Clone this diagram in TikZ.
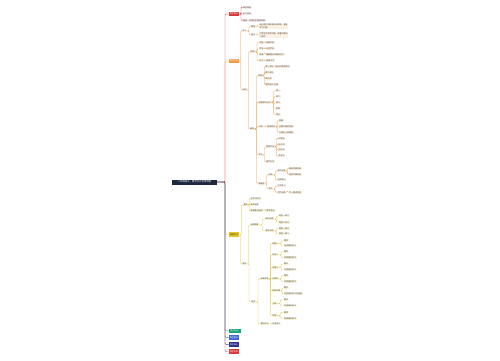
\documentclass[tikz,border=0pt]{standalone}
\usepackage{fontspec}
\newfontfamily\cjkf{Noto Sans CJK SC}
\usetikzlibrary{calc}
\definecolor{cR}{HTML}{D93A3A}
\definecolor{cO}{HTML}{EE9A3C}
\definecolor{cY}{HTML}{E6C425}
\definecolor{cG}{HTML}{1BA57A}
\definecolor{cB}{HTML}{3E6AD6}
\definecolor{cN}{HTML}{2C2F8C}
\definecolor{cRoot}{HTML}{1D2740}
\newcommand\mmf{\fontsize{2.0}{2.5}\selectfont\cjkf}
\newcommand\mmroot{\fontsize{2.4}{3}\selectfont\cjkf}
\newcommand\lk[3]{\draw[#1] let \p1=(#2.east), \p2=(#3.west) in (\p1) -- ({(\x1+\x2)/2},\y1) |- (\p2);}
\newcommand\lkx[4]{\draw[#1] let \p1=(#2.east), \p2=(#3.west) in (\p1) -- (#4pt,\y1) |- (\p2);}
\begin{document}
\begin{tikzpicture}[x=1pt,y=-1pt,
  sub/.style={anchor=west, font=\mmf, inner xsep=0.5pt, inner ysep=0.4pt, text=black!75},
  sr/.style={sub, fill=cR!10},
  so/.style={sub, fill=cO!14},
  sy/.style={sub, fill=cY!18},
  lone/.style={anchor=west, font=\mmf, text=white, inner xsep=1pt, inner ysep=0pt, minimum height=4.4pt, minimum width=10.5pt},
  lr/.style={draw=cR, line width=0.4pt, rounded corners=1pt},
  lo/.style={draw=cO, line width=0.35pt, rounded corners=1pt},
  ly/.style={draw=cY, line width=0.35pt, rounded corners=1pt},
  lg/.style={draw=cG, line width=0.4pt, rounded corners=1pt},
  lb/.style={draw=cB, line width=0.4pt, rounded corners=1pt},
  ln/.style={draw=cN, line width=0.4pt, rounded corners=1pt}
]
\useasboundingbox (0,0) rectangle (500,360);
\fill[white] (0,0) rectangle (500,360);

% root
\node[lone, anchor=center, fill=cRoot, font=\mmroot, minimum width=45pt, minimum height=5pt] (root) at (194.5,182) {八年级语文·教学设计思维导图};

% ---- red branch
\node[lone, fill=cR] (r0) at (228.5,14) {教学目标};
\node[sr] (r1) at (242.5,7.3) {知识目标};
\node[sr] (r2) at (242.5,14) {能力目标};
\node[sr] (r3) at (242.5,20.3) {情感、态度与价值观目标};

% ---- orange branch
\node[lone, fill=cO] (o0) at (228.5,61) {教学过程};
\node[so] (oA) at (242,31) {导入};
\node[so] (oA1) at (250.5,26.3) {情境};
\node[so, align=left] (oA1t) at (259,26.3) {通过图片和视频创设情境，激发\\学习兴趣};
\node[so] (oA2) at (250.5,35) {提问};
\node[so, align=left] (oA2t) at (259,35) {引导学生思考问题，带着问题进\\入课文};
\node[so] (oB) at (242,90) {新授};
\node[so] (oC1) at (250,51.7) {初读};
\node[so] (c11) at (258.7,42.7) {字音};
\node[so] (c11t) at (265.5,42.7) {读准字音};
\node[so] (c12) at (258.7,48.7) {字形};
\node[so] (c12t) at (265.5,48.7) {记住字形};
\node[so] (c13) at (258.7,54.3) {词语};
\node[so] (c13t) at (265.5,54.3) {理解重点词语的含义};
\node[so] (c14) at (258.7,60.7) {句子};
\node[so] (c14t) at (265.5,60.7) {读通 句子};
\node[so] (oC2) at (249.5,129) {精读};
\node[so] (oD1) at (258,75.7) {结构};
\node[so] (d11) at (265,66.7) {第一部分：提出问题和观点};
\node[so] (d12) at (265,72.3) {第二部分};
\node[so] (d13) at (265,78.3) {第三部};
\node[so] (d14) at (265,84.3) {第四部分 总结};
\node[so] (oD2) at (258,102.3) {段落层次分析};
\node[so] (d21) at (275.5,90.7) {其一};
\node[so] (d22) at (275.5,96.7) {其二};
\node[so] (d23) at (275.5,102.3) {其三};
\node[so] (d24) at (275.5,108.3) {其四};
\node[so] (d25) at (275.5,114.3) {其五};
\node[so] (oD3) at (258,126.7) {人物};
\node[so] (oD3b) at (266.5,126.7) {性格特点};
\node[so] (d31) at (278.3,120.7) {勇敢};
\node[so] (d32) at (278.3,126.7) {坚强不屈的品质};
\node[so] (d33) at (278.3,132.3) {乐观向上的精神};
\node[so] (oD4) at (258,155) {写法};
\node[so] (oE1) at (265.5,146.7) {修辞手法};
\node[so] (e11) at (278,138.3) {比喻句};
\node[so] (e12) at (278,144.3) {拟人句};
\node[so] (e13) at (278,150) {排比句};
\node[so] (e14) at (278,156) {夸张句};
\node[so] (oE2) at (265.5,161.7) {描写方法};
\node[so] (oD5) at (258,183.3) {拓展区};
\node[so] (oE3) at (268,175) {阅读};
\node[so] (oF1) at (277,171) {课外阅读};
\node[so] (f11) at (288.3,168.3) {相关名著选读};
\node[so] (f12) at (288.3,174.3) {同类文章赏析};
\node[so] (oF2) at (277,180) {阅读笔记};
\node[so] (oE4) at (268,189) {写作};
\node[so] (oF3) at (277,186) {仿写练习};
\node[so] (oF4) at (277,192.3) {写作训练};
\node[so] (oF4t) at (288.3,192.3) {写一篇读后感};

% ---- yellow branch
\node[lone, fill=cY, text=black!80] (y0) at (228.5,234.5) {课堂练习};
\node[sy] (yG1) at (243,205) {基础};
\node[sy] (g11) at (250,199) {生字词听写};
\node[sy] (g12) at (250,205) {课文朗读};
\node[sy] (g13) at (250,210.7) {背诵重点段落};
\node[sy] (g13t) at (266,210.7) {默写名句};
\node[sy] (yG2) at (242,264) {提升};
\node[sy] (yH1) at (250,225) {阅读理解};
\node[sy] (yI1) at (265,219) {课内阅读};
\node[sy] (i11) at (278.3,216) {题型一练习};
\node[sy] (i12) at (278.3,222.3) {题型二练习};
\node[sy] (yI2) at (265,231) {课外阅读};
\node[sy] (i21) at (278.3,228.3) {题型一练习};
\node[sy] (i22) at (278.3,234) {题型二练习};
\node[sy] (yH2) at (250.7,302) {综合};
\node[sy] (yJ0) at (260,279) {拓展训练};
\foreach \i/\y/\ya/\yb/\a/\b in {
  1/243.3/240.7/246/训练一/完成课后练习,
  2/255/251.7/257.7/训练二/完成课后练习,
  3/267.3/264/270/训练三/完成课后练习,
  4/279/275.7/281.7/训练四/完成课后练习,
  5/290.7/287.7/294/综合训练/完成课后练习及拓展,
  6/303.3/300/306/小结/完成课后练习,
  7/315.7/312.3/318.3/巩固/完成课后练习}{
  \node[sy] (J\i) at (271.7,\y) {\a};
  \node[sy] (J\i a) at (283.3,\ya) {要求};
  \node[sy] (J\i b) at (283.3,\yb) {\b};
  \lk{ly}{yJ0}{J\i}
  \lk{ly}{J\i}{J\i a}
  \lk{ly}{J\i}{J\i b}
}
\node[sy] (yK) at (260,324) {课后作业};
\node[sy] (yKt) at (271.7,324) {完成练习};

% ---- bottom branches
\node[lone, fill=cG, minimum width=12pt] (g0) at (228.5,330.7) {板书设计};
\node[lone, fill=cB] (b0) at (228.5,337.3) {教学重点};
\node[lone, fill=cN] (n0) at (228.5,344.3) {教学难点};
\node[lone, fill=cR] (x0) at (228.5,351.5) {教学反思};

% ---- links root
\lkx{lo}{root}{o0}{225}
\lkx{lr}{root}{r0}{225}
\lkx{ly}{root}{y0}{225}
\lkx{lg}{root}{g0}{225}
\lkx{lb}{root}{b0}{225}
\lkx{ln}{root}{n0}{225}
\lkx{lr}{root}{x0}{225}

% red
\foreach \c in {r1,r2,r3}{\lk{lr}{r0}{\c}}
% orange
\lk{lo}{o0}{oA}\lk{lo}{o0}{oB}
\lk{lo}{oA}{oA1}\lk{lo}{oA}{oA2}
\lk{lo}{oA1}{oA1t}\lk{lo}{oA2}{oA2t}
\lk{lo}{oB}{oC1}\lk{lo}{oB}{oC2}
\foreach \c in {c11,c12,c13,c14}{\lk{lo}{oC1}{\c}\lk{lo}{\c}{\c t}}
\foreach \c in {oD1,oD2,oD3,oD4,oD5}{\lk{lo}{oC2}{\c}}
\foreach \c in {d11,d12,d13,d14}{\lk{lo}{oD1}{\c}}
\foreach \c in {d21,d22,d23,d24,d25}{\lk{lo}{oD2}{\c}}
\lk{lo}{oD3}{oD3b}
\foreach \c in {d31,d32,d33}{\lk{lo}{oD3b}{\c}}
\lk{lo}{oD4}{oE1}\lk{lo}{oD4}{oE2}
\foreach \c in {e11,e12,e13,e14}{\lk{lo}{oE1}{\c}}
\lk{lo}{oD5}{oE3}\lk{lo}{oD5}{oE4}
\lk{lo}{oE3}{oF1}\lk{lo}{oE3}{oF2}
\lk{lo}{oF1}{f11}\lk{lo}{oF1}{f12}
\lk{lo}{oE4}{oF3}\lk{lo}{oE4}{oF4}
\lk{lo}{oF4}{oF4t}
% yellow
\lk{ly}{y0}{yG1}\lk{ly}{y0}{yG2}
\foreach \c in {g11,g12,g13}{\lk{ly}{yG1}{\c}}
\lk{ly}{g13}{g13t}
\lk{ly}{yG2}{yH1}\lk{ly}{yG2}{yH2}
\lk{ly}{yH1}{yI1}\lk{ly}{yH1}{yI2}
\lk{ly}{yI1}{i11}\lk{ly}{yI1}{i12}
\lk{ly}{yI2}{i21}\lk{ly}{yI2}{i22}
\lk{ly}{yH2}{yJ0}\lk{ly}{yH2}{yK}
\lk{ly}{yK}{yKt}
\end{tikzpicture}
\end{document}
